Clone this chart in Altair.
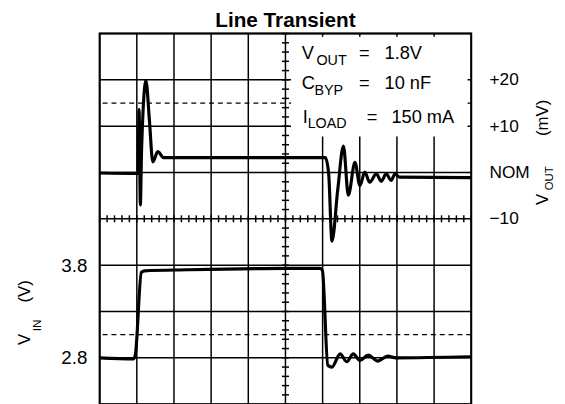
import altair as alt
import pandas as pd

# ---- data (time in scope divisions, 0..10) ----
VOUT_T = [0, 1.035, 1.06, 1.095, 1.127, 1.247, 1.34, 1.43, 1.565, 1.72, 6.02, 6.074,
          6.162, 6.252, 6.406, 6.56, 6.692, 6.87, 7.003, 7.135, 7.268, 7.446, 7.578,
          7.711, 7.843, 7.95, 8.064, 10]
VOUT_MV = [-0.1, -0.2, 13.6, -7.0, 4.7, 19.8, 11.1, 2.3, 4.5, 3.2, 3.2, 3.2,
           -0.2, -14.8, -3.8, 5.7, -4.9, 2.2, -2.8, 0.1, -2.1, -0.3, -1.9,
           -0.3, -1.7, -0.3, -1.0, -1.1]

VIN_T = [0, 0.902, 0.955, 1.122, 1.212, 2.36, 5.013, 5.942, 5.995, 6.14, 6.252,
         6.472, 6.65, 6.825, 7.003, 7.223, 7.488, 7.753, 7.976, 10]
VIN_V = [2.80, 2.789, 2.82, 3.722, 3.739, 3.75, 3.765, 3.765, 3.74, 2.72, 2.70,
         2.843, 2.757, 2.843, 2.771, 2.829, 2.765, 2.818, 2.80, 2.811]

VOUT_TICKS = [-10, 0, 10, 20]
VIN_TICKS = [2.8, 3.8]
GRID_X = list(range(0, 11))
GRID_Y = list(range(0, 9))
DASH_Y = [1.5, 6.5]
MINOR_X = [i / 5 for i in range(0, 51)]
MINOR_Y = [i / 5 for i in range(0, 41)]

FONT = "Liberation Sans"
W, H = 377, 376

xs = alt.Scale(domain=[0, 10], nice=False, zero=False)
ds = alt.Scale(domain=[0, 8], nice=False, zero=False)
vout_scale = alt.Scale(domain=[-50, 30], nice=False, zero=False)
vin_scale = alt.Scale(domain=[2.3, 6.3], nice=False, zero=False)

vgrid = alt.Chart(pd.DataFrame({"x": GRID_X})).mark_rule(color="black", strokeWidth=1.5).encode(
    x=alt.X("x:Q", scale=xs, axis=None))
hgrid = alt.Chart(pd.DataFrame({"y": GRID_Y})).mark_rule(color="black", strokeWidth=1.5).encode(
    y=alt.Y("y:Q", scale=ds, axis=None))
dash = alt.Chart(pd.DataFrame({"y": DASH_Y})).mark_rule(color="black", strokeWidth=1.3, strokeDash=[5, 4]).encode(
    y=alt.Y("y:Q", scale=ds, axis=None))

box = alt.Chart(pd.DataFrame({"x": [5.15], "x2": [9.9], "y": [5.78], "y2": [7.93]})).mark_rect(
    color="white").encode(
    x=alt.X("x:Q", scale=xs, axis=None), x2="x2",
    y=alt.Y("y:Q", scale=ds, axis=None), y2="y2")

vticks = alt.Chart(pd.DataFrame({"y": MINOR_Y, "a": 4.905, "b": 5.095})).mark_rule(
    color="black", strokeWidth=1.5).encode(
    y=alt.Y("y:Q", scale=ds, axis=None),
    x=alt.X("a:Q", scale=xs, axis=None), x2="b")
hticks = alt.Chart(pd.DataFrame({"x": MINOR_X, "a": 3.925, "b": 4.075})).mark_rule(
    color="black", strokeWidth=1.5).encode(
    x=alt.X("x:Q", scale=xs, axis=None),
    y=alt.Y("a:Q", scale=ds, axis=None), y2="b")

vin_line = alt.Chart(pd.DataFrame({"t": VIN_T, "v": VIN_V})).mark_line(
    color="black", strokeWidth=3.2, interpolate="monotone").encode(
    x=alt.X("t:Q", scale=xs, axis=None),
    y=alt.Y("v:Q", scale=vin_scale,
            axis=alt.Axis(orient="left", values=VIN_TICKS, format=".1f", ticks=False,
                          domain=False, grid=False, labelFont=FONT, labelFontSize=19,
                          labelColor="black", labelPadding=13, title=None)))

vout_line = alt.Chart(pd.DataFrame({"t": VOUT_T, "mv": VOUT_MV})).mark_line(
    color="black", strokeWidth=3.2, interpolate="monotone").encode(
    x=alt.X("t:Q", scale=xs, axis=None),
    y=alt.Y("mv:Q", scale=vout_scale,
            axis=alt.Axis(orient="right", values=VOUT_TICKS, ticks=False, domain=False,
                          grid=False, labelFont=FONT, labelFontSize=17.5, labelColor="black",
                          labelPadding=18, title=None,
                          labelExpr="datum.value == 0 ? 'NOM' : (datum.value > 0 ? '+' + datum.value : '\u2212' + abs(datum.value))")))


def txt(s, x, y, size, angle=None, align="left", weight=None):
    kw = dict(text=s, align=align, baseline="alphabetic", font=FONT, fontSize=size, color="black")
    if angle is not None:
        kw["angle"] = angle
    if weight is not None:
        kw["fontWeight"] = weight
    return alt.Chart(pd.DataFrame({"k": [0]})).mark_text(**kw).encode(
        x=alt.value(x), y=alt.value(y))


texts = [
    txt("Line Transient", 188.5, -7, 21, align="center", weight="bold"),
    txt("V", 205, 26, 18.5), txt("OUT", 220, 32, 14.5), txt("=", 263, 26, 18.5), txt("1.8V", 289, 26, 18.5),
    txt("C", 205, 56, 18.5), txt("BYP", 218, 62, 14.5), txt("=", 263, 56, 18.5), txt("10 nF", 289, 56, 18.5),
    txt("I", 206, 91, 18.5), txt("LOAD", 211, 96, 14.5), txt("=", 271, 91, 18.5), txt("150 mA", 296, 91, 18.5),
    # left axis title: V_IN (V)
    txt("V", -71, 316, 17, 270), txt("IN", -60, 302, 12, 270), txt("(V)", -71, 273, 17, 270),
    # right axis title: V_OUT (mV)
    txt("V", 455, 174, 17, 270), txt("OUT", 460, 159, 11.5, 270), txt("(mV)", 455, 104, 17, 270),
]

chart = alt.layer(vgrid, hgrid, dash, box, vticks, hticks, vin_line, vout_line, *texts).resolve_scale(
    y="independent").properties(
    width=W, height=H,
    autosize=alt.AutoSizeParams(type="none"),
    padding={"left": 93, "top": 23, "right": 87, "bottom": 0},
).configure_view(stroke="black", strokeWidth=2)

chart.save("out.html", embed_options={"renderer": "svg", "actions": False})
